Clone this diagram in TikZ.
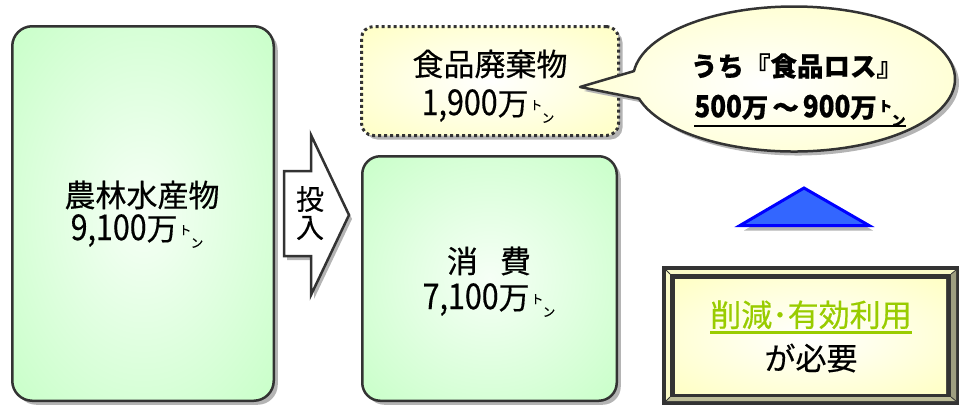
\documentclass[tikz,border=0pt]{standalone}
\usepackage{fontspec}
\usepackage{graphicx}
\setmainfont{Noto Sans CJK JP}[FakeBold=0.4]
\usetikzlibrary{shapes.callouts,shadows}
\definecolor{bord}{HTML}{333333}
\definecolor{gcenter}{HTML}{F6FFF6}
\definecolor{greenedge}{HTML}{C8FFC8}
\definecolor{yellowedge}{HTML}{FFFFC4}
\definecolor{shadowgray}{HTML}{B4B4B4}
\definecolor{triblue}{HTML}{3366FF}
\definecolor{triedge}{HTML}{0000FF}
\definecolor{limegreen}{HTML}{99CC00}
\definecolor{bevlight}{HTML}{FAFAC8}
\definecolor{bevdark}{HTML}{9E9E80}
\definecolor{bevmid}{HTML}{BDBD98}
\pgfdeclareradialshading{gshade}{\pgfpoint{0bp}{0bp}}{color(0bp)=(gcenter); color(36bp)=(greenedge); color(50bp)=(greenedge)}
\pgfdeclareradialshading{yshade}{\pgfpoint{0bp}{0bp}}{color(0bp)=(white); color(36bp)=(yellowedge); color(50bp)=(yellowedge)}
\newsavebox\ulbox
\newcommand\myul[2][-7pt]{\sbox\ulbox{#2}\rlap{\rule[#1]{\wd\ulbox}{2.5pt}}\usebox\ulbox}
\newcommand\tonunit[1][12.5pt]{{\fontsize{#1}{#1}\selectfont\kern0.1em\raisebox{0.42em}{ト}\kern-0.05em\raisebox{-0.6em}{ン}}}
\newcommand\dg[1]{\scalebox{0.98}[1.15]{#1}}
\begin{document}
\begin{tikzpicture}[x=1pt,y=-1pt,line join=round,
  shadowed/.style={drop shadow={shadow xshift=4pt,shadow yshift=-4pt,fill=shadowgray,opacity=1}},
  gbox/.style={draw=bord,line width=2.5pt,shade,shading=gshade,shadowed,inner sep=0pt},
  ybox/.style={draw=bord,line width=2.5pt,shade,shading=yshade,shadowed,inner sep=0pt},
  txt/.style={inner sep=0pt,font=\fontsize{31pt}{36pt}\selectfont},
  ctxt/.style={inner sep=0pt,font=\fontsize{26.5pt}{30pt}\selectfont\bfseries},
  atxt/.style={inner sep=0pt,font=\fontsize{28pt}{30pt}\selectfont},
]
\useasboundingbox (0,0) rectangle (959,405);
% left box
\node[gbox, rounded corners=20pt, minimum width=261.5pt, minimum height=374.5pt] (farm) at (143,213.5) {};
\node[txt] (farmA) at (142,195) {農林水産物};
\node[txt] (farmB) at (137,231) {\dg{9,100}万\tonunit};
% input arrow
\draw[draw=bord, fill=white, line width=2.5pt, line join=miter,
  drop shadow={shadow xshift=3pt,shadow yshift=-4pt,fill=shadowgray,opacity=1}]
  (284,171) -- (311,171) -- (311,135) -- (349,215) -- (311,295) -- (311,256) -- (284,256) -- cycle;
\node[atxt] (inA) at (310,199) {投};
\node[atxt] (inB) at (310,228) {入};
% food waste box
\node[ybox, line width=3pt, dash pattern=on 3pt off 3pt, rounded corners=12pt, minimum width=257pt, minimum height=109pt] (waste) at (490,81) {};
\node[txt] (wasteA) at (490,64) {食品廃棄物};
\node[txt] (wasteB) at (488,106) {\dg{1,900}万\tonunit};
% consumption box
\node[gbox, rounded corners=18pt, minimum width=254.5pt, minimum height=244.5pt] (cons) at (489.5,278.5) {};
\node[txt] (consA) at (489,261) {消\hspace{22pt}費};
\node[txt] (consB) at (489,300) {\dg{7,100}万\tonunit};
% callout
\coordinate (tip) at (580,87);
\node[ellipse callout, callout absolute pointer={(tip)}, callout pointer arc=22,
  draw=bord, line width=2.5pt, shade, shading=yshade, shadowed, inner sep=0pt,
  minimum width=322pt, minimum height=145pt] (loss) at (794,79) {};
\node[ctxt] (lossA) at (797,66) {うち『食品ロス』};
\node[ctxt] (lossB) at (800,111) {\myul[-10pt]{\dg{500}万\hspace{4pt}～\hspace{4pt}\dg{900}万\tonunit[14pt]}};
% triangle
\filldraw[fill=triblue, draw=triedge, line width=3pt, line join=miter,
  drop shadow={shadow xshift=4pt,shadow yshift=-5pt,fill=shadowgray,opacity=1}]
  (804,188) -- (869,225.5) -- (740,225.5) -- cycle;
% bevel box
\fill[bord] (662,266) rectangle (960,405);
\fill[bevlight] (666,270) -- (956,270) -- (951,274) -- (670,274) -- cycle;
\fill[bevlight] (666,270) -- (670,274) -- (670,397) -- (666,401) -- cycle;
\fill[bevdark] (956,270) -- (956,401) -- (951,397) -- (951,274) -- cycle;
\fill[bevmid] (666,401) -- (956,401) -- (951,397) -- (670,397) -- cycle;
\draw[bord, line width=0.8pt] (666,270) -- (670,274) (956,270) -- (951,274) (666,401) -- (670,397) (956,401) -- (951,397);
\fill[bord] (670,274) rectangle (951,397);
\node[shade, shading=yshade, inner sep=0pt, minimum width=271pt, minimum height=114pt] (need) at (810.5,336) {};
\node[txt, text=limegreen] (needA) at (811,317) {\myul{削減･有効利用}};
\node[txt] (needB) at (811,358) {が必要};
\end{tikzpicture}
\end{document}
